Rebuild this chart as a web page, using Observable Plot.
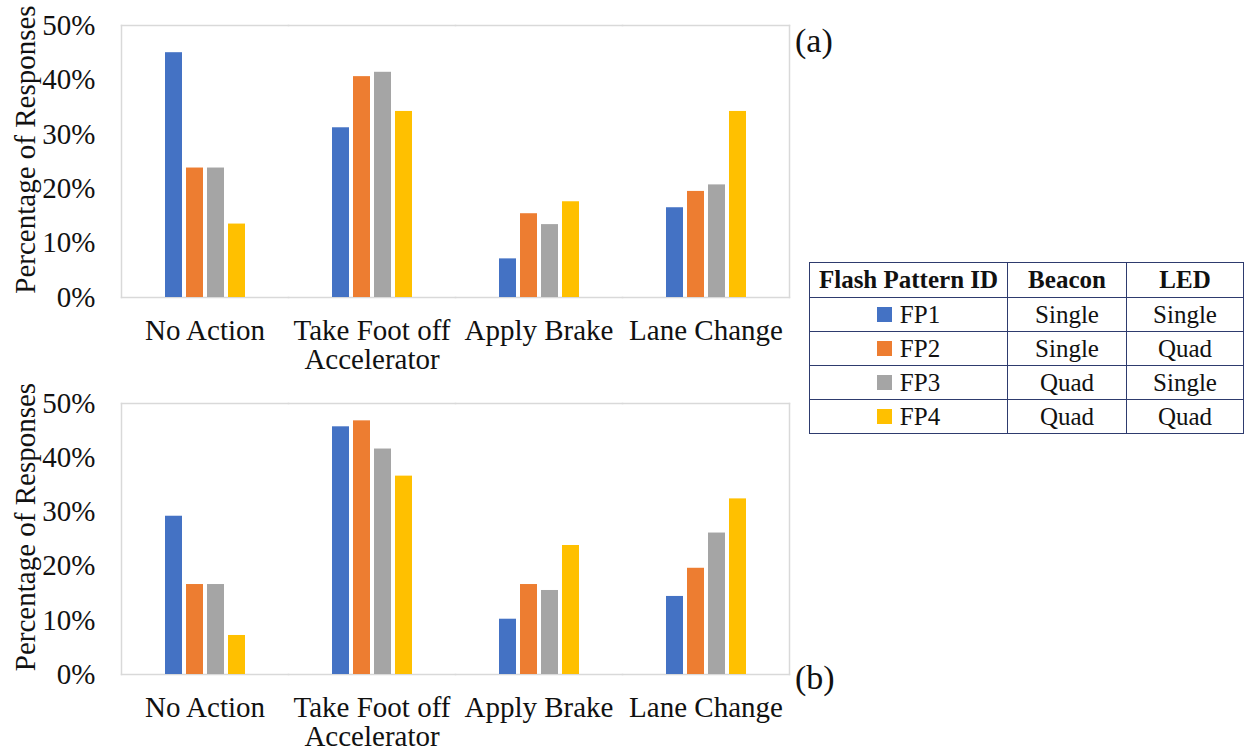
<!DOCTYPE html>
<html><head><meta charset="utf-8">
<script src="https://cdn.jsdelivr.net/npm/d3@7"></script>
<script src="https://cdn.jsdelivr.net/npm/@observablehq/plot@0.6"></script>
<style>
body{margin:0;background:#fff;font-family:"Liberation Serif","Times New Roman","DejaVu Serif",serif;color:#111;}
#wrap{position:relative;width:1244px;height:754px;overflow:hidden;}
.panel{position:absolute;left:0;}
.tag{position:absolute;font-size:34px;line-height:1;color:#111;}
table{position:absolute;left:809px;top:262px;border-collapse:collapse;font-size:25px;table-layout:fixed;}
td,th{border:1.5px solid #2E3B6E;text-align:center;padding:0;white-space:nowrap;}
th{height:34px;font-weight:bold;}
td{height:33px;}
.sw{display:inline-block;width:15px;height:15px;margin-right:8px;vertical-align:1px;}
</style></head><body>
<div id="wrap">
  <div id="pa" class="panel" style="top:0"></div>
  <div id="pb" class="panel" style="top:378px"></div>
  <div class="tag" style="left:795px;top:24px">(a)</div>
  <div class="tag" style="left:795px;top:661px">(b)</div>
  <table id="legend"></table>
</div>
<script>
const categories = ["No Action", "Take Foot off\nAccelerator", "Apply Brake", "Lane Change"];
const series = ["FP1", "FP2", "FP3", "FP4"];
const colors = ["#4472C4", "#ED7D31", "#A5A5A5", "#FFC000"];
const yTicks = [0, 0.1, 0.2, 0.3, 0.4, 0.5];
const yLabel = "Percentage of Responses";

// Panel (a)
const aFP1 = [0.450, 0.312, 0.071, 0.165];
const aFP2 = [0.238, 0.406, 0.154, 0.195];
const aFP3 = [0.238, 0.414, 0.134, 0.207];
const aFP4 = [0.135, 0.342, 0.176, 0.342];
// Panel (b)
const bFP1 = [0.292, 0.457, 0.102, 0.144];
const bFP2 = [0.166, 0.468, 0.166, 0.196];
const bFP3 = [0.166, 0.416, 0.155, 0.261];
const bFP4 = [0.072, 0.366, 0.238, 0.324];

// Legend table
const tableHeader = ["Flash Pattern ID", "Beacon", "LED"];
const beacon = ["Single", "Single", "Quad", "Quad"];
const led = ["Single", "Quad", "Single", "Quad"];

const serifFont = "'Liberation Serif', 'Times New Roman', 'DejaVu Serif', serif";

function panel(vals, height, marginBottom) {
  const data = [];
  series.forEach((s, i) => vals[i].forEach((v, j) => data.push({category: categories[j], series: s, value: v})));
  return Plot.plot({
    width: 800, height, marginLeft: 120, marginRight: 10, marginTop: 25, marginBottom,
    style: {fontFamily: serifFont, fontSize: "29px", color: "#111", background: "transparent", overflow: "visible"},
    fx: {domain: categories, padding: 0, label: null},
    x: {domain: series, paddingInner: 0.2, paddingOuter: 1.96, axis: null},
    y: {domain: [0, 0.5]},
    color: {domain: series, range: colors},
    marks: [
      Plot.frame({anchor: "top", stroke: "#d9d9d9", strokeWidth: 1.5}),
      Plot.frame({anchor: "bottom", stroke: "#d9d9d9", strokeWidth: 1.5}),
      Plot.frame({anchor: "left", stroke: "#d9d9d9", strokeWidth: 1.5, facetAnchor: "left"}),
      Plot.frame({anchor: "right", stroke: "#d9d9d9", strokeWidth: 1.5, facetAnchor: "right"}),
      Plot.barY(data, {fx: "category", x: "series", y: "value", fill: "series"}),
      Plot.axisFx({anchor: "bottom", tickSize: 0, tickPadding: 22, label: null, lineHeight: 1.0}),
      Plot.axisY({ticks: yTicks, tickFormat: d3.format(".0%"), tickSize: 0, tickPadding: 26, label: null}),
      Plot.text([yLabel], {frameAnchor: "left", rotate: -90, lineAnchor: "top", textAnchor: "middle",
        dx: -107, dy: -12, facetAnchor: "left", fontSize: 29, fill: "#111"})
    ]
  });
}

document.getElementById("pa").append(panel([aFP1, aFP2, aFP3, aFP4], 380, 83));
document.getElementById("pb").append(panel([bFP1, bFP2, bFP3, bFP4], 376, 80));

const table = document.getElementById("legend");
const colW = [198, 119, 117];
let html = "<colgroup>" + colW.map(w => `<col style="width:${w}px">`).join("") + "</colgroup>";
html += "<tr>" + tableHeader.map(h => `<th>${h}</th>`).join("") + "</tr>";
series.forEach((s, i) => {
  html += `<tr><td><span class="sw" style="background:${colors[i]}"></span>${s}</td><td>${beacon[i]}</td><td>${led[i]}</td></tr>`;
});
table.innerHTML = html;
</script>
</body></html>
